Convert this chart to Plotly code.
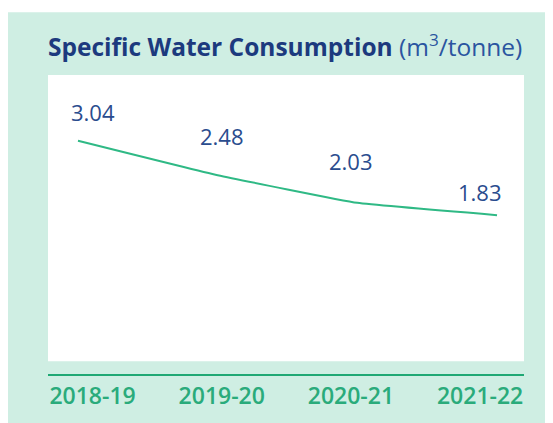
import plotly.graph_objects as go

periods = ["2018-19", "2019-20", "2020-21", "2021-22"]
values = [3.04, 2.48, 2.03, 1.83]
value_labels = ["3.04", "2.48", "2.03", "1.83"]
label_shift = [29, 39, 42, 23]

MINT = "#cfeee3"
NAVY = "#1c3a7e"
UNIT_BLUE = "#2a55a0"
LABEL_NAVY = "#2a4c8e"
GREEN_LINE = "#2fb985"
GREEN_AXIS = "#1fa874"
GREEN_TEXT = "#2aab7b"
FONT = "Open Sans"

fig = go.Figure()
fig.add_trace(go.Scatter(
    x=list(range(len(values))), y=values, mode="lines",
    line=dict(color=GREEN_LINE, width=2, shape="spline", smoothing=0.3),
    xaxis="x", yaxis="y", hoverinfo="skip", showlegend=False))
# invisible trace to establish categorical tick axis
fig.add_trace(go.Scatter(
    x=periods, y=values, mode="markers", marker=dict(opacity=0),
    xaxis="x2", yaxis="y", hoverinfo="skip", showlegend=False))

for p, v, t, s in zip(periods, values, value_labels, label_shift):
    fig.add_annotation(x=p, y=v, xref="x2", yref="y", text=t, showarrow=False,
                       yshift=s, font=dict(family=FONT, size=22, color=LABEL_NAVY))

fig.add_annotation(
    x=-0.004, y=1.098, xref="paper", yref="paper", xanchor="left", yanchor="middle",
    text=("<b>Specific Water Consumption</b> "
          f"<span style='color:{UNIT_BLUE}'>(m<sup>3</sup>/tonne)</span>"),
    showarrow=False,
    font=dict(family=FONT, size=24.5, color=NAVY))

# white strip above the mint card
fig.add_shape(type="rect", xref="paper", yref="paper", x0=-0.2, x1=1.2,
              y0=1.2098, y1=1.3, fillcolor="white", line_width=0, layer="below")
# white chart panel
fig.add_shape(type="rect", xref="paper", yref="paper", x0=0, x1=1,
              y0=0.0426, y1=1, fillcolor="white", line_width=0, layer="below")

fig.update_layout(
    width=545, height=415,
    margin=dict(l=40, r=29, t=67, b=43),
    paper_bgcolor=MINT, plot_bgcolor="rgba(0,0,0,0)",
    xaxis=dict(range=[-0.2148, 3.193], visible=False, fixedrange=True),
    xaxis2=dict(type="category", range=[-0.345, 3.34], overlaying="x", side="bottom",
                anchor="y", showline=True, linecolor=GREEN_AXIS, linewidth=2,
                showgrid=False, zeroline=False, ticks="",
                tickfont=dict(family=FONT, size=23, color=GREEN_TEXT, weight=600)),
    yaxis=dict(range=[-0.75, 4.107], visible=False, fixedrange=True),
)

fig.write_html("out.html")
